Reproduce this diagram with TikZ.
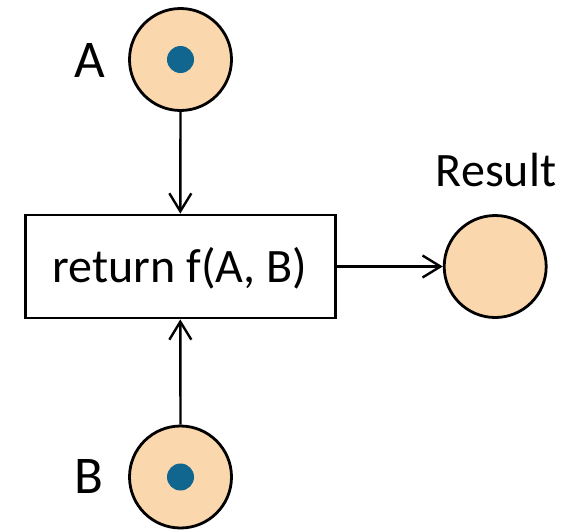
\documentclass[tikz,border=0pt]{standalone}
\usepackage{fontspec}
\setmainfont{Carlito}
\usetikzlibrary{arrows.meta}
\definecolor{placefill}{HTML}{FAD7AC}
\definecolor{tokencol}{HTML}{10668F}
\tikzset{
  place/.style={circle, draw=black, line width=2.8pt, fill=placefill, minimum size=102pt, inner sep=0pt},
  token/.style={circle, fill=tokencol, minimum size=27pt, inner sep=0pt},
  trans/.style={rectangle, draw=black, line width=2.8pt, fill=white, minimum width=310pt, minimum height=103pt, inner sep=0pt},
  biglabel/.style={font=\fontsize{53}{60}\selectfont, inner sep=0pt, anchor=base},
  midlabel/.style={font=\fontsize{48}{56}\selectfont, inner sep=0pt, anchor=base},
  conn/.style={line width=2.4pt, -{Straight Barb[length=18pt,width=22pt,line width=2.4pt]}}
}
\begin{document}
\begin{tikzpicture}[x=1pt,y=1pt]
\useasboundingbox (0,0) rectangle (577,-530);
\node[place] (A) at (180.5,-59.5) {};
\node[token] (tA) at (A.center) {};
\node[biglabel] (lA) at (89.5,-77) {A};
\node[place] (B) at (180.5,-477) {};
\node[token] (tB) at (B.center) {};
\node[biglabel] (lB) at (89,-493) {B};
\node[trans] (T) at (180.3,-266.5) {};
\node[midlabel] (tT) at (180,-282.7) {return f(A, B)};
\node[place] (R) at (495.2,-266.5) {};
\node[midlabel] (lR) at (496,-186.7) {Result};
\draw[conn] (A.south) -- (T.north);
\draw[conn] (B.north) -- (T.south);
\draw[conn] (T.east) -- (R.west);
\end{tikzpicture}
\end{document}
